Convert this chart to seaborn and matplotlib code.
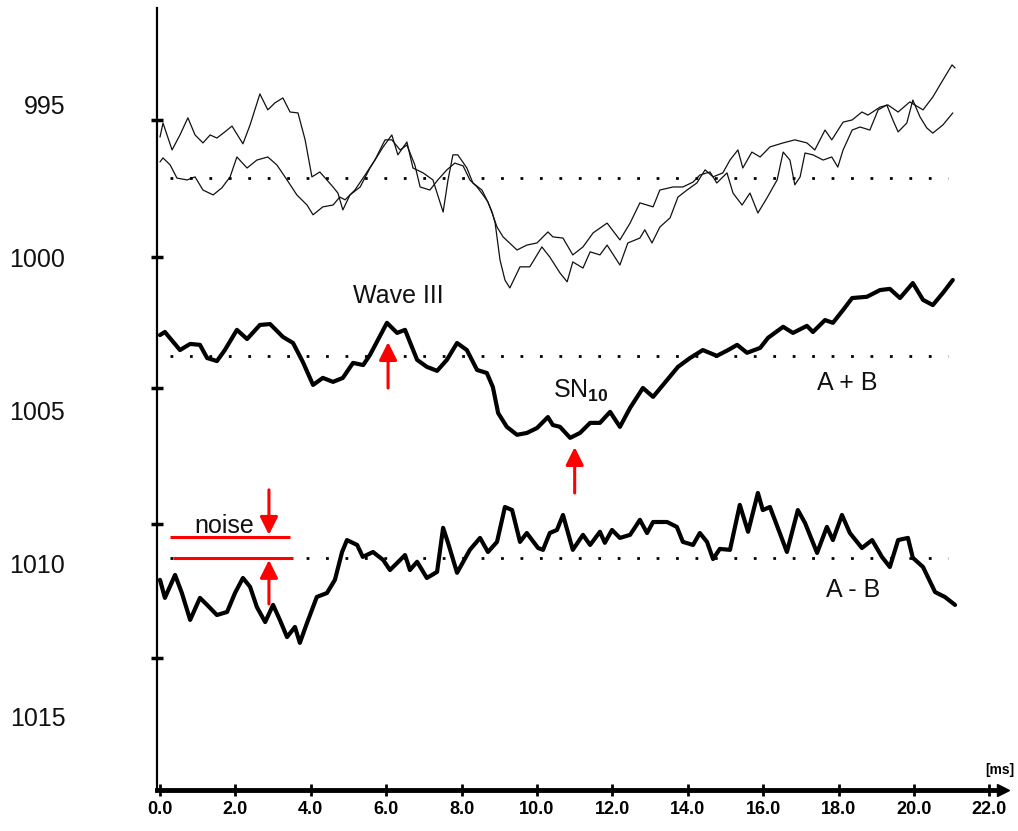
import matplotlib
matplotlib.use("Agg")
import matplotlib.pyplot as plt
import seaborn as sns

# ---------------- data ----------------
t_a = [0.00, 0.08, 0.32, 0.53, 0.74, 0.93, 1.14, 1.33, 1.51, 1.72, 1.91, 2.20, 2.39, 2.65, 2.86, 3.05, 3.26, 3.45, 3.66, 3.85,
       4.03, 4.24, 4.59, 4.72, 4.85, 5.04, 5.31, 5.57, 5.92, 6.15, 6.31, 6.55, 6.71, 6.98, 7.24, 7.51, 7.64, 7.77, 7.90, 8.14,
       8.30, 8.54, 8.67, 8.81, 8.89, 9.02, 9.15, 9.28, 9.55, 9.81, 10.13, 10.34, 10.61, 10.80, 10.95, 11.22, 11.41, 11.67, 11.86, 12.20,
       12.41, 12.73, 12.86, 13.05, 13.26, 13.53, 13.74, 13.98, 14.24, 14.46, 14.67, 14.93, 15.12, 15.33, 15.46, 15.70, 15.92, 16.18, 16.53, 16.84,
       17.16, 17.37, 17.64, 17.82, 18.12, 18.36, 18.62, 18.78, 19.10, 19.31, 19.58, 19.89, 20.24, 20.50, 20.77, 21.01, 21.09]
v_a = [996.05, 995.59, 996.47, 995.98, 995.42, 995.98, 996.24, 995.98, 996.08, 995.88, 995.69, 996.27, 995.65, 994.64, 995.16, 994.93, 994.77, 995.23, 995.26, 996.14,
       997.35, 997.19, 997.68, 997.88, 998.43, 997.94, 997.68, 997.06, 996.37, 995.98, 996.63, 996.21, 997.06, 997.22, 997.45, 998.50, 997.45, 996.63, 996.63, 997.06,
       997.55, 997.78, 998.10, 998.50, 998.86, 1000.07, 1000.72, 1000.98, 1000.29, 1000.29, 999.64, 999.97, 1000.49, 1000.78, 1000.13, 1000.33, 999.80, 999.90, 999.58, 1000.23,
       999.51, 999.35, 999.08, 999.51, 998.99, 998.69, 998.01, 997.78, 997.55, 997.12, 997.35, 997.22, 996.80, 996.47, 997.06, 996.54, 996.70, 996.37, 996.24, 996.14,
       996.24, 996.47, 995.82, 996.14, 995.56, 995.49, 995.23, 995.33, 995.07, 995.00, 995.23, 994.90, 995.16, 994.74, 994.18, 993.69, 993.79]

t_b = [0.00, 0.08, 0.27, 0.45, 0.72, 0.93, 1.14, 1.41, 1.64, 1.86, 2.04, 2.31, 2.57, 2.86, 3.10, 3.37, 3.63, 3.90, 4.06, 4.32,
       4.59, 4.77, 4.91, 5.17, 5.44, 5.70, 5.97, 6.15, 6.37, 6.55, 6.76, 6.90, 7.16, 7.37, 7.61, 7.82, 8.04, 8.22, 8.41, 8.57,
       8.70, 8.81, 8.94, 9.10, 9.47, 9.73, 10.00, 10.29, 10.42, 10.69, 10.95, 11.22, 11.49, 11.86, 12.20, 12.47, 12.73, 13.08, 13.26, 13.61,
       13.87, 14.14, 14.32, 14.59, 14.77, 15.04, 15.20, 15.44, 15.65, 15.86, 16.10, 16.37, 16.53, 16.71, 16.84, 16.98, 17.11, 17.32, 17.59, 17.82,
       17.98, 18.12, 18.36, 18.57, 18.83, 19.05, 19.28, 19.44, 19.58, 19.81, 19.97, 20.16, 20.34, 20.50, 20.77, 21.03]
v_b = [996.86, 996.73, 996.96, 997.39, 997.45, 997.35, 997.78, 997.94, 997.71, 997.35, 996.70, 997.06, 996.80, 996.70, 996.96, 997.45, 997.94, 998.27, 998.59, 998.33,
       998.27, 998.01, 998.10, 997.78, 997.29, 996.80, 996.14, 996.14, 996.47, 996.31, 996.96, 997.68, 997.78, 997.45, 997.12, 996.90, 996.99, 997.45, 997.68, 997.94,
       998.17, 998.53, 998.99, 999.31, 999.74, 999.58, 999.51, 999.15, 999.31, 999.35, 999.90, 999.64, 999.18, 998.86, 999.41, 998.86, 998.20, 998.33, 997.78, 997.68,
       997.68, 997.52, 997.29, 997.19, 997.55, 997.22, 997.88, 998.27, 997.88, 998.53, 998.04, 997.45, 996.54, 996.80, 997.61, 997.35, 996.57, 996.63, 996.80, 996.70,
       997.03, 996.47, 995.82, 995.72, 995.82, 995.16, 995.00, 995.49, 995.88, 995.59, 994.84, 995.39, 995.75, 995.92, 995.65, 995.26]

t_sum = [0.00, 0.13, 0.53, 0.80, 1.06, 1.25, 1.51, 1.72, 2.04, 2.31, 2.65, 2.92, 3.26, 3.53, 3.79, 4.06, 4.32, 4.59, 4.85, 5.12,
         5.39, 5.57, 6.02, 6.29, 6.50, 6.82, 7.08, 7.35, 7.61, 7.88, 8.14, 8.41, 8.67, 8.83, 8.97, 9.20, 9.47, 9.73, 10.00, 10.29,
         10.42, 10.61, 10.88, 11.14, 11.41, 11.67, 11.94, 12.20, 12.47, 12.81, 13.08, 13.45, 13.74, 14.06, 14.40, 14.77, 15.07, 15.31, 15.57, 15.92,
         16.13, 16.53, 16.79, 17.16, 17.32, 17.64, 17.85, 18.12, 18.36, 18.75, 19.10, 19.36, 19.63, 19.97, 20.24, 20.50, 20.77, 21.03]
v_sum = [1002.52, 1002.42, 1003.01, 1002.81, 1002.84, 1003.27, 1003.37, 1003.01, 1002.35, 1002.65, 1002.19, 1002.16, 1002.58, 1002.78, 1003.40, 1004.15, 1003.92, 1004.05, 1003.92, 1003.43,
         1003.50, 1003.17, 1002.12, 1002.45, 1002.35, 1003.33, 1003.56, 1003.69, 1003.33, 1002.78, 1003.01, 1003.66, 1003.76, 1004.22, 1005.07, 1005.52, 1005.78, 1005.72, 1005.56, 1005.20,
         1005.46, 1005.52, 1005.88, 1005.72, 1005.39, 1005.39, 1005.03, 1005.52, 1004.90, 1004.25, 1004.54, 1003.99, 1003.56, 1003.27, 1003.01, 1003.20, 1003.01, 1002.84, 1003.10, 1002.94,
         1002.61, 1002.25, 1002.45, 1002.22, 1002.42, 1002.03, 1002.12, 1001.70, 1001.31, 1001.27, 1001.05, 1001.01, 1001.31, 1000.82, 1001.37, 1001.54, 1001.14, 1000.72]

t_diff = [0.00, 0.13, 0.40, 0.58, 0.80, 1.06, 1.25, 1.51, 1.78, 1.99, 2.20, 2.39, 2.57, 2.79, 3.00, 3.18, 3.37, 3.58, 3.71, 3.90,
          4.16, 4.43, 4.64, 4.83, 4.96, 5.23, 5.38, 5.65, 5.92, 6.10, 6.29, 6.50, 6.63, 6.82, 7.08, 7.35, 7.51, 7.64, 7.88, 8.22,
          8.49, 8.70, 8.94, 9.15, 9.34, 9.55, 9.73, 10.03, 10.16, 10.34, 10.53, 10.69, 10.95, 11.22, 11.41, 11.67, 11.80, 11.99, 12.20, 12.47,
          12.73, 12.92, 13.08, 13.45, 13.71, 13.87, 14.14, 14.32, 14.51, 14.67, 14.85, 15.12, 15.38, 15.60, 15.86, 15.99, 16.18, 16.63, 16.92, 17.11,
          17.43, 17.69, 17.85, 18.09, 18.30, 18.62, 18.89, 19.15, 19.36, 19.58, 19.84, 19.97, 20.24, 20.56, 20.82, 21.09]
v_diff = [1010.52, 1011.11, 1010.36, 1010.95, 1011.83, 1011.11, 1011.34, 1011.67, 1011.57, 1010.95, 1010.46, 1010.75, 1011.41, 1011.90, 1011.34, 1011.83, 1012.39, 1012.06, 1012.58, 1011.93,
          1011.08, 1010.95, 1010.52, 1009.61, 1009.22, 1009.38, 1009.77, 1009.61, 1009.87, 1010.20, 1009.97, 1009.71, 1010.20, 1009.93, 1010.46, 1010.26, 1008.82, 1009.31, 1010.29, 1009.54,
          1009.15, 1009.61, 1009.28, 1008.14, 1008.24, 1009.28, 1008.99, 1009.48, 1009.54, 1008.99, 1008.89, 1008.40, 1009.54, 1009.05, 1009.38, 1008.95, 1009.31, 1008.89, 1009.15, 1009.05,
          1008.56, 1008.99, 1008.63, 1008.63, 1008.79, 1009.28, 1009.38, 1008.99, 1009.28, 1009.84, 1009.51, 1009.54, 1008.07, 1008.95, 1007.68, 1008.24, 1008.14, 1009.61, 1008.24, 1008.66,
          1009.64, 1008.79, 1009.22, 1008.40, 1008.99, 1009.48, 1009.22, 1009.77, 1010.10, 1009.22, 1009.15, 1009.80, 1010.10, 1010.92, 1011.08, 1011.34]

baseline_levels = [997.39, 1003.20, 1009.80]
baseline_span = [0.27, 20.90]

y_tick_values = [995, 1000, 1005, 1010, 1015]
y_tick_labels = ["995", "1000", "1005", "1010", "1015"]
y_scan_ticks = [995.49, 999.97, 1004.25, 1008.69, 1013.07]
x_tick_values = [0, 2, 4, 6, 8, 10, 12, 14, 16, 18, 20, 22]
x_tick_labels = ["0.0", "2.0", "4.0", "6.0", "8.0", "10.0", "12.0", "14.0", "16.0", "18.0", "20.0", "22.0"]

# annotation values
wave3_t, wave3_arrow = 6.05, (1004.25, 1002.75)
sn10_t, sn10_arrow = 11.0, (1007.68, 1006.18)
noise_upper, noise_upper_span = 1009.12, (0.27, 3.45)
noise_lower, noise_lower_span = 1009.80, (0.35, 3.53)
noise_t = 2.89
noise_down_arrow = (1007.58, 1009.05)
noise_up_arrow = (1011.31, 1009.87)

# ---------------- style ----------------
sns.set_theme(style="white")
plt.rcParams["font.family"] = ["Liberation Sans", "DejaVu Sans"]
plt.rcParams["mathtext.fontset"] = "custom"
plt.rcParams["mathtext.rm"] = "Liberation Sans"
plt.rcParams["mathtext.bf"] = "Liberation Sans:bold"

fig = plt.figure(figsize=(10.18, 8.31), dpi=100)
ax = fig.add_axes([0.1542, 0.0493, 0.831, 0.9411])

thin = dict(color="#111111", linewidth=0.9, estimator=None, sort=False, ax=ax,
            solid_joinstyle="round", solid_capstyle="round")
thick = dict(color="black", linewidth=3.0, estimator=None, sort=False, ax=ax,
             solid_joinstyle="round", solid_capstyle="round")
sns.lineplot(x=t_a, y=v_a, **thin)
sns.lineplot(x=t_b, y=v_b, **thin)
sns.lineplot(x=t_sum, y=v_sum, **thick)
sns.lineplot(x=t_diff, y=v_diff, **thick)

for lvl in baseline_levels:
    ax.hlines(lvl, baseline_span[0], baseline_span[1], colors="black",
              linestyles=(0, (1, 6)), linewidth=2.0)

# red annotations
arrow_kw = dict(arrowstyle="-|>,head_length=0.9,head_width=0.45", color="red",
                lw=2.2, mutation_scale=12, shrinkA=0, shrinkB=0)
ax.annotate("", xy=(wave3_t, wave3_arrow[1]), xytext=(wave3_t, wave3_arrow[0]), arrowprops=arrow_kw)
ax.annotate("", xy=(sn10_t, sn10_arrow[1]), xytext=(sn10_t, sn10_arrow[0]), arrowprops=arrow_kw)
ax.annotate("", xy=(noise_t, noise_down_arrow[1]), xytext=(noise_t, noise_down_arrow[0]), arrowprops=arrow_kw)
ax.annotate("", xy=(noise_t, noise_up_arrow[1]), xytext=(noise_t, noise_up_arrow[0]), arrowprops=arrow_kw)
ax.hlines(noise_upper, *noise_upper_span, colors="red", linewidth=2.2)
ax.hlines(noise_lower, *noise_lower_span, colors="red", linewidth=2.2)

# texts
ax.text(6.31, 1001.24, "Wave III", ha="center", va="center", fontsize=18, color="#111111")
ax.text(10.42, 1004.58, r"SN$_{\mathbf{10}}$", ha="left", va="baseline", fontsize=18, color="#111111")
ax.text(18.22, 1004.08, "A + B", ha="center", va="center", fontsize=18, color="#111111")
ax.text(18.38, 1010.85, "A - B", ha="center", va="center", fontsize=18, color="#111111")
ax.text(1.70, 1008.99, "noise", ha="center", va="baseline", fontsize=18, color="#111111")

# axes
ax.set_xlim(-0.08, 22.36)
ax.set_ylim(1017.39, 991.83)
ax.set_xlabel("")
ax.set_ylabel("")
ax.grid(False)
for side in ["top", "right"]:
    ax.spines[side].set_visible(False)
ax.spines["left"].set_linewidth(1.6)
ax.spines["left"].set_color("black")
ax.spines["bottom"].set_linewidth(3.5)
ax.spines["bottom"].set_color("black")

ax.set_yticks(y_tick_values)
ax.set_yticklabels(y_tick_labels, fontsize=18, color="#111111")
ax.set_yticks(y_scan_ticks, minor=True)
ax.tick_params(axis="y", which="major", left=True, length=0, pad=66)
ax.tick_params(axis="y", which="minor", left=True, length=8, width=2.5,
               direction="inout", color="black")

ax.set_xticks(x_tick_values)
ax.set_xticklabels(x_tick_labels, fontsize=13, fontweight="bold", color="black")
ax.tick_params(axis="x", which="major", bottom=True, length=8, width=2,
               direction="inout", color="black", pad=4)

ax.plot(1.0, 0.0, marker=">", color="black", markersize=8, transform=ax.transAxes, clip_on=False)
fig.text(1000 / 1018, 1 - 770 / 831, "[ms]", ha="center", va="center", fontsize=10,
         fontweight="bold", color="black")

fig.savefig("out.png", dpi=100)
